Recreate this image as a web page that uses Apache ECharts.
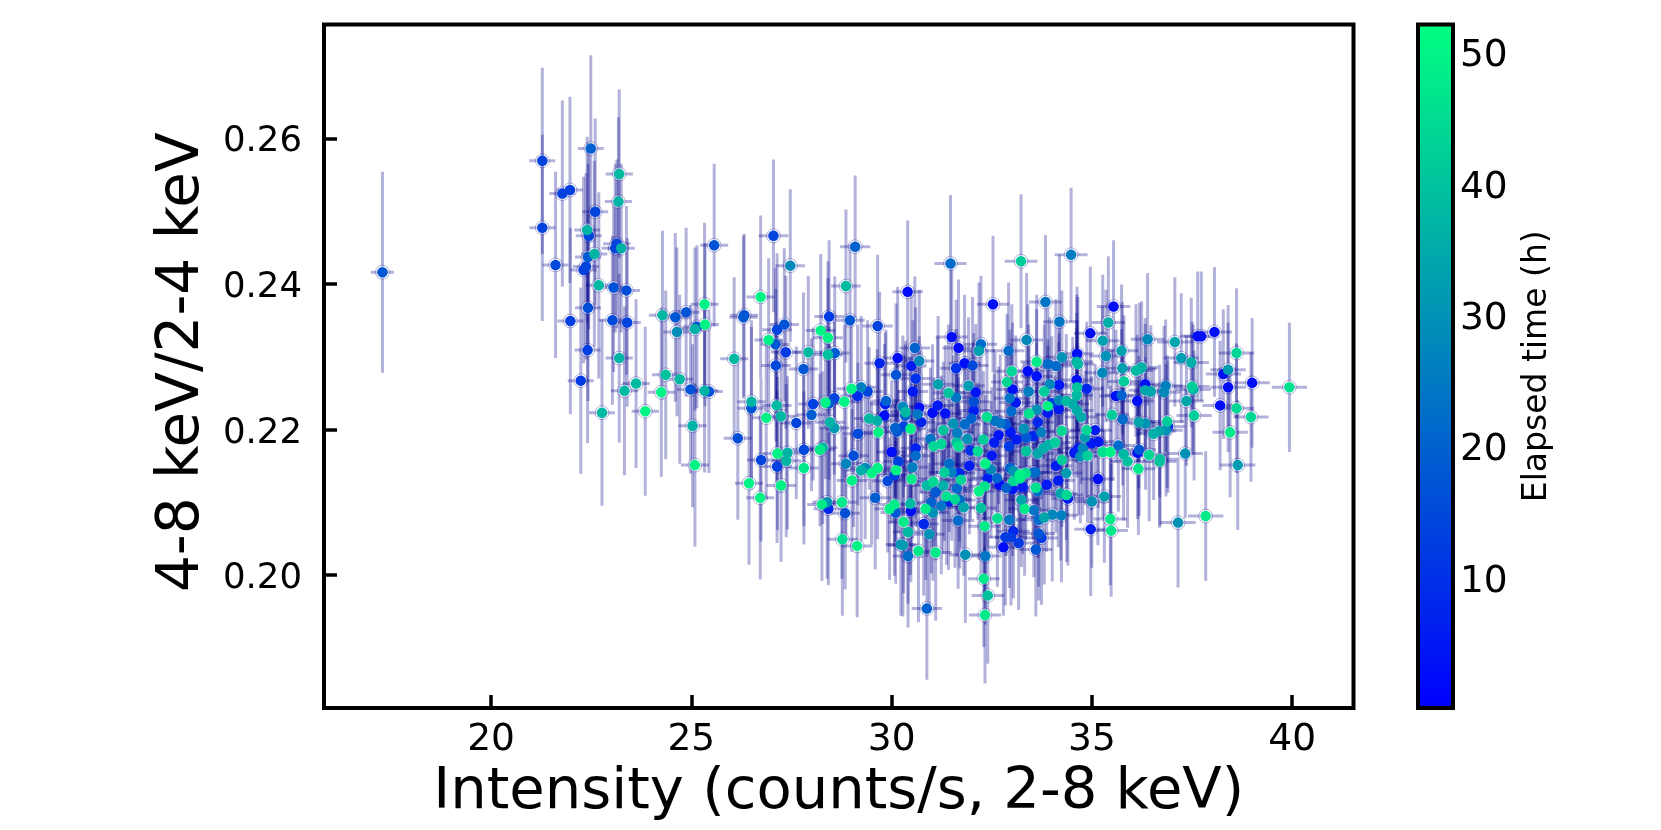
<!DOCTYPE html>
<html><head><meta charset="utf-8">
<style>html,body{margin:0;padding:0;background:#fff}#c{width:1661px;height:830px}</style>
<script src="https://cdn.jsdelivr.net/npm/echarts@6/dist/echarts.min.js"></script>
</head><body><div id="c"></div>
<script>
// Each row: intensity (counts/s), hardness ratio, elapsed time (h).
const band17to21 = [[17.29,.2416,18]];
const band21to23 = [[21.28,.2569,14],[21.28,.2477,14],[21.78,.2524,13],[21.97,.2529,13],[21.61,.2426,15],[21.98,.2349,13],[22.49,.2586,20],[22.6,.2499,14],[22.4,.2474,37],[22.44,.2466,14],[22.42,.2437,19],[22.58,.2441,37],[22.37,.2424,14],[22.31,.2419,13],[22.69,.2398,38],[22.42,.2367,16],[22.41,.2309,13],[22.24,.2267,12],[22.77,.2223,38]];
const band23to25 = [[23.2,.2551,38],[23.18,.2513,37],[23.14,.2455,14],[23.1,.2449,14],[23.25,.2449,36],[23.06,.2395,17],[23.38,.2391,16],[23.03,.235,15],[23.4,.2347,14],[23.2,.2298,37],[24.28,.2357,38],[24.6,.2354,18],[24.87,.2361,17],[24.64,.2334,29],[24.36,.2275,40],[23.33,.2253,38],[23.62,.2263,38],[23.85,.2225,50],[24.25,.2251,50],[24.71,.2269,38],[24.98,.2255,17]];
const band25to27 = [[25.09,.2338,36],[25.14,.2341,17],[25.33,.2372,50],[25.34,.2344,50],[25.57,.2453,17],[26.07,.2297,38],[26.32,.2357,17],[26.3,.2354,18],[26.73,.2382,50],[26.93,.2323,50],[25.33,.2253,37],[25.44,.2252,17],[25.03,.2205,37],[25.09,.2151,50],[26.16,.2188,16],[26.5,.2238,37],[26.5,.2229,17],[26.44,.2126,50],[26.72,.2106,50],[26.74,.2158,14],[26.87,.2216,50]];
const band27to29 = [[27.05,.2466,14],[27.47,.2425,28],[28.44,.2355,12],[27.14,.2337,14],[27.32,.2344,17],[27.1,.2317,18],[27.36,.2306,12],[27.92,.2306,38],[28.23,.2336,50],[28.41,.2326,50],[28.41,.2303,40],[28.58,.2305,19],[27.11,.2288,15],[27.8,.2283,18],[27.13,.2233,38],[27.24,.2218,38],[27.62,.2209,14],[28,.222,19],[28.04,.2235,13],[28.35,.2237,50],[28.44,.2236,18],[28.57,.2243,14],[28.46,.221,37],[28.57,.2202,32],[27.81,.2172,15],[27.15,.2167,50],[27.4,.2168,37],[27.37,.2157,37],[27.14,.2149,13],[27.81,.2147,48],[27.24,.2123,50],[28.21,.2172,48],[28.28,.2175,38],[28.26,.2097,48],[28.39,.21,30],[28.42,.2091,8],[28.76,.21,48],[28.77,.2049,45],[28.86,.2397,38],[28.96,.235,18],[28.82,.2238,50],[28.86,.2153,27],[28.84,.2085,16]];
const band29to31 = [[29.09,.2451,20],[29.65,.2342,14],[30.15,.2298,3],[29.7,.2291,8],[30.11,.2275,17],[29,.2256,50],[29.24,.2258,26],[29.4,.2252,14],[29.15,.2246,9],[29.86,.2239,20],[29.84,.2235,5],[29.82,.2219,3],[29.44,.2215,38],[29.64,.2212,36],[29.67,.2196,50],[29.16,.2194,15],[30.09,.2202,20],[30.14,.2197,18],[30,.2169,3],[30.17,.2156,13],[29.05,.2164,16],[29.59,.2106,19],[29.34,.2147,28],[29.24,.2144,36],[29.5,.214,50],[29.65,.2147,50],[29.9,.2129,15],[30.07,.2137,12],[30.11,.2144,50],[29.95,.2091,50],[30.07,.2097,48],[30.1,.2086,18],[29.01,.213,50],[30.23,.2042,30],[29.14,.204,50],[30.4,.2389,3],[30.58,.2312,20],[30.69,.2294,28],[30.49,.2287,6],[30.6,.227,10],[30.53,.2252,5],[30.28,.2231,28],[30.35,.2224,38],[30.69,.223,3],[30.65,.2221,24],[30.34,.2219,20],[30.74,.221,7],[30.47,.2201,50],[30.3,.2204,14],[30.97,.2187,24],[30.6,.2164,22],[30.6,.2174,7],[30.5,.2132,48],[30.52,.2148,26],[30.88,.2123,38],[30.99,.21,20],[30.85,.2091,48],[30.48,.2088,3],[30.47,.2098,38],[30.3,.2073,48],[30.8,.207,8],[30.41,.2059,38],[30.94,.2056,30],[30.28,.2041,32],[30.67,.2033,48],[30.41,.2026,22],[30.88,.1954,20]];
const band31to33 = [[31.5,.2327,3],[31.67,.2312,2],[32.23,.2317,22],[32.18,.2308,33],[32.92,.2308,22],[31.82,.2291,3],[32.02,.2288,15],[31.61,.2284,10],[32.88,.2265,44],[31.92,.226,32],[31.16,.2262,33],[31.42,.225,40],[31.61,.2244,24],[32.1,.2251,4],[32.95,.2243,24],[32.99,.2225,22],[32.05,.2238,16],[32.05,.2226,6],[31.15,.2233,5],[31.02,.2223,3],[31.34,.2222,4],[31.54,.2208,30],[31.83,.2207,22],[31.99,.2215,20],[32.38,.2217,46],[32.58,.2212,24],[32.71,.2209,24],[32.85,.2207,18],[32.97,.2196,5],[31.29,.2199,40],[31.64,.2195,26],[31.89,.2187,30],[32.29,.2186,42],[32.67,.2192,4],[32.56,.2182,6],[32.93,.2177,12],[31.05,.2177,44],[31.24,.218,44],[31.62,.2182,40],[31.67,.2177,46],[31.97,.2171,10],[32.15,.217,45],[32.5,.2164,5],[31.32,.2141,42],[31.5,.2141,26],[31.44,.2153,22],[31.94,.215,6],[31.69,.214,8],[31.73,.2131,44],[31.04,.2128,44],[31.29,.2123,36],[31.1,.2114,18],[31.63,.2119,22],[31.37,.2108,46],[31.58,.2104,44],[31.8,.2093,34],[31.7,.2103,22],[31.24,.2095,24],[31.42,.2101,6],[31.03,.2086,30],[31.1,.2031,48],[31.66,.2075,22],[31.84,.2028,30],[32.34,.2026,24],[32.3,.1995,48],[32.23,.2092,40],[32.32,.2067,48],[32.64,.2078,46],[32.94,.2076,24],[32.18,.2115,50],[32.32,.2122,46],[32.34,.2153,50],[32.48,.2145,28],[32.4,.2133,6],[32.63,.2133,20],[32.96,.2147,20],[32.7,.2124,3],[32.86,.212,20],[32.84,.2052,12],[32.98,.2052,12],[32.79,.2038,3],[32.4,.1972,40],[32.33,.1945,48],[31.47,.2428,22],[32.53,.2372,3]];
const band33to35 = [[33.37,.2323,28],[33.62,.2293,48],[34.25,.2299,30],[33.9,.229,22],[34.1,.2287,22],[33,.228,44],[33.4,.228,3],[33.62,.2273,4],[33.02,.2255,3],[33.42,.2252,26],[33.95,.2262,28],[34.18,.2261,5],[33.81,.2252,42],[33.1,.2237,5],[33.43,.2222,46],[33.62,.2227,30],[33.65,.221,8],[33.9,.2232,50],[33.9,.2223,5],[34.17,.2228,5],[34,.2236,12],[34.18,.224,28],[34.36,.2239,38],[34.52,.2235,35],[34.63,.2226,35],[34.25,.2198,44],[33.3,.2201,30],[33.73,.2196,26],[33.12,.2186,6],[33.36,.2189,18],[33.53,.2191,8],[33.36,.217,40],[34.08,.2182,42],[33.92,.2179,36],[33.79,.2174,36],[33.65,.2167,34],[34.66,.2174,5],[34.56,.2168,6],[33.04,.2143,30],[33.04,.2129,44],[33.21,.2133,48],[33.2,.2138,50],[33.35,.214,46],[33.53,.2141,22],[33.59,.2141,22],[33.02,.2118,5],[33.27,.2121,6],[33.6,.212,46],[33.65,.2115,22],[33.87,.2124,5],[34.16,.213,6],[34.1,.215,6],[34.36,.214,32],[34.25,.2158,42],[34.22,.2112,34],[34.37,.211,44],[34.4,.2105,5],[33.24,.2103,34],[33.32,.2091,48],[33.55,.2089,24],[33.67,.2076,22],[33.81,.2079,34],[34.01,.2083,28],[34.24,.2082,26],[33.04,.206,8],[33.17,.2044,12],[33.6,.2035,18],[33.67,.2057,18],[33.74,.2051,12],[34.97,.2063,6],[34.96,.2332,3],[34.63,.2304,3],[34.62,.2293,36],[34.65,.229,38],[34.62,.2268,3],[34.63,.2258,40],[34.62,.2247,38],[34.87,.2256,8],[34.73,.2217,35],[34.87,.2199,44],[34.83,.2189,32],[34.99,.2181,5],[34.77,.2174,28],[34.71,.2163,30],[34.89,.2164,42],[33.23,.2431,42],[34.48,.244,26],[33.84,.2375,24],[34.19,.2348,24]];
const band35to37 = [[35.15,.2132,3],[35.31,.2108,33],[35,.2101,30],[35.46,.2077,48],[35.48,.2061,48],[36.16,.2146,48],[35.89,.2156,40],[36.69,.2156,40],[35.27,.2322,33],[36.39,.2324,28],[35.74,.2308,33],[35.35,.2301,30],[35.26,.2278,28],[35.76,.2284,33],[36.1,.2281,38],[36.24,.2285,36],[36.19,.2283,36],[35.8,.2266,42],[36.33,.2262,3],[36.33,.2254,34],[36.47,.2252,34],[36.84,.226,26],[36.8,.2251,28],[35.6,.2246,3],[35.74,.2247,20],[36.13,.2239,3],[35.5,.222,42],[35.77,.2214,22],[36.17,.221,34],[36.34,.2208,30],[36.88,.2211,42],[36.54,.2194,36],[36.69,.2198,34],[36.85,.2199,30],[36.9,.2204,10],[35.08,.2199,6],[35.16,.2183,5],[35.66,.2178,22],[36.18,.2172,18],[36.14,.2168,3],[35.27,.2169,46],[35.46,.2169,50],[35.79,.2166,38],[36.43,.2165,44],[36.7,.2159,40],[35.54,.2369,3],[35.41,.2347,36]];
const band37to40 = [[37.15,.2072,30],[37.07,.232,34],[37.64,.2328,3],[37.73,.2328,3],[38.06,.2334,3],[37.23,.2298,32],[37.48,.2292,36],[38.61,.2305,44],[38.4,.2282,32],[38.28,.2276,3],[38.4,.2258,3],[39,.2264,3],[37.5,.2259,42],[37.53,.2255,36],[37.36,.2239,34],[38.2,.2233,3],[38.61,.2229,44],[38.97,.2217,44],[37.55,.2219,42],[38.45,.2196,48],[37.33,.2167,30],[39.93,.2258,46],[37.84,.2081,48],[38.64,.2151,32]];

const allBands = [band17to21, band21to23, band23to25, band25to27, band27to29, band29to31, band31to33, band33to35, band35to37, band37to40];
// Half-lengths of the error bars, read per intensity band.
const xErrByBand = [.29, .325, .34, .35, .37, .38, .40, .41, .42, .44];
const yErrByBand = [.0138, .0128, .0116, .0112, .0105, .0098, .0094, .0092, .0091, .0089];

const xTicks = [20, 25, 30, 35, 40];
const yTicks = [.20, .22, .24, .26];
const colorTicks = [10, 20, 30, 40, 50];
const xRange = [15.83, 41.53];
const yRange = [.18173, .27563];
const timeRange = [.2, 52.2];
const winterColors = ['#0000ff', '#00ff80'];

const rows = [];
allBands.forEach((band, b) => band.forEach(r => rows.push([r[0], r[1], r[2], xErrByBand[b], yErrByBand[b]])));
rows.sort((p, q) => p[2] - q[2]);

const FONT = 'DejaVu Sans';
const barColor = 'rgba(0,0,139,0.3)';

function renderErr(params, api) {
  const x = api.value(0), y = api.value(1), dx = api.value(3), dy = api.value(4);
  const c = api.coord([x, y]);
  const a = api.coord([x - dx, y]), b = api.coord([x + dx, y]);
  const t = api.coord([x, y + dy]), d = api.coord([x, y - dy]);
  const lineStyle = {stroke: barColor, lineWidth: 3, fill: null};
  return {type: 'group', children: [
    {type: 'line', shape: {x1: c[0], y1: t[1], x2: c[0], y2: d[1]}, style: lineStyle},
    {type: 'line', shape: {x1: a[0], y1: c[1], x2: b[0], y2: c[1]}, style: lineStyle},
    {type: 'circle', shape: {cx: c[0], cy: c[1], r: 6.9},
     style: {fill: 'rgba(255,255,255,0.45)', stroke: barColor, lineWidth: 1}}
  ]};
}

const chart = echarts.init(document.getElementById('c'), null, {renderer: 'canvas'});
chart.setOption({
  animation: false,
  backgroundColor: '#fff',
  textStyle: {fontFamily: FONT, color: '#000'},
  grid: [
    {left: 324, top: 24.5, width: 1029.5, height: 683.5, show: true, backgroundColor: 'transparent',
     borderColor: '#000', borderWidth: 4, z: 10},
    {left: 1418, top: 24.5, width: 35, height: 683.5, show: true, backgroundColor: 'transparent',
     borderColor: '#000', borderWidth: 4, z: 10}
  ],
  xAxis: [
    {type: 'value', gridIndex: 0, min: xRange[0], max: xRange[1], name: 'Intensity (counts/s, 2-8 keV)',
     nameLocation: 'middle', nameGap: 56, nameTextStyle: {fontSize: 57.6, fontFamily: FONT, color: '#000'},
     axisLine: {show: false}, splitLine: {show: false},
     axisTick: {show: true, inside: true, length: 13, lineStyle: {color: '#000', width: 3.5}, customValues: xTicks},
     axisLabel: {fontSize: 37.5, fontFamily: FONT, color: '#000', margin: 13, customValues: xTicks, formatter: v => String(v)}},
    {type: 'value', gridIndex: 1, min: 0, max: 1, show: false}
  ],
  yAxis: [
    {type: 'value', gridIndex: 0, min: yRange[0], max: yRange[1], name: '4-8 keV/2-4 keV',
     nameLocation: 'middle', nameGap: 108, nameRotate: 90, nameTextStyle: {fontSize: 58, fontFamily: FONT, color: '#000', padding: [0, 0, 0, 8]},
     axisLine: {show: false}, splitLine: {show: false},
     axisTick: {show: true, inside: true, length: 13, lineStyle: {color: '#000', width: 3.5}, customValues: yTicks},
     axisLabel: {fontSize: 35.5, fontFamily: FONT, color: '#000', margin: 22, customValues: yTicks,
       formatter: v => '{t|' + v.toFixed(2) + '}',
       rich: {t: {fontSize: 35.5, fontFamily: FONT, color: '#000', padding: [8, 0, 0, 0]}}}},
    {type: 'value', gridIndex: 1, position: 'right', min: timeRange[0], max: timeRange[1], name: 'Elapsed time (h)',
     nameLocation: 'middle', nameGap: 68, nameRotate: 90, nameTextStyle: {fontSize: 33, fontFamily: FONT, color: '#000'},
     axisLine: {show: false}, splitLine: {show: false}, axisTick: {show: false},
     axisLabel: {fontSize: 37.5, fontFamily: FONT, color: '#000', margin: 7, customValues: colorTicks,
       formatter: v => '{t|' + v + '}',
       rich: {t: {fontSize: 37.5, fontFamily: FONT, color: '#000', padding: [6, 0, 0, 0]}}}}
  ],
  visualMap: {
    type: 'continuous', show: true, seriesIndex: 1, dimension: 2,
    min: timeRange[0], max: timeRange[1], inRange: {color: winterColors},
    calculable: false, hoverLink: false, realtime: false, text: null, padding: 0,
    itemWidth: 35, itemHeight: 683.5, left: 1418, top: 24.5, orient: 'vertical', z: 4,
    borderWidth: 0, showLabel: false
  },
  series: [
    {type: 'custom', xAxisIndex: 0, yAxisIndex: 0, renderItem: renderErr, silent: true, z: 2,
     data: rows, encode: {x: 0, y: 1}, clip: true},
    {type: 'scatter', xAxisIndex: 0, yAxisIndex: 0, z: 3, symbol: 'circle', symbolSize: 10.5, silent: true,
     data: rows.map(r => [r[0], r[1], r[2]]), encode: {x: 0, y: 1}, itemStyle: {opacity: 1, borderWidth: 0}}
  ]
});
</script></body></html>
